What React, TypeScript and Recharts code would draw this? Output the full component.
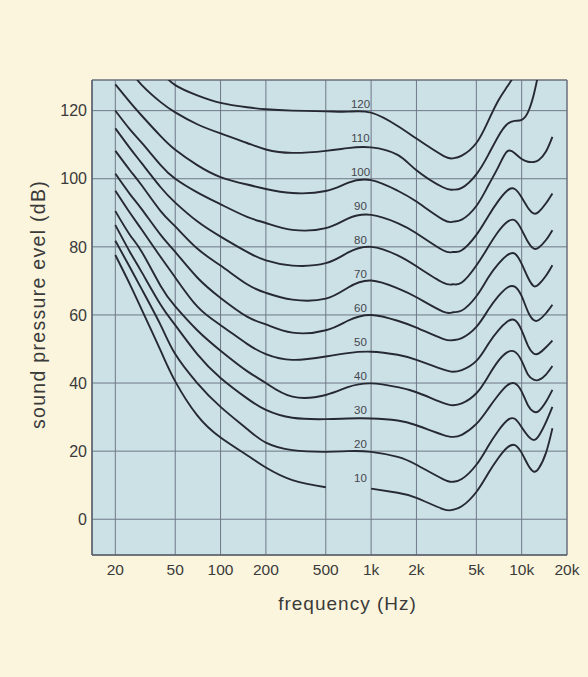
import {
  CartesianGrid,
  Line,
  LineChart,
  ReferenceArea,
  ReferenceDot,
  XAxis,
  YAxis
} from "recharts";

const FREQS = [20, 25, 30, 40, 50, 70, 100, 150, 200, 300, 500, 700, 1000, 1500, 2000, 3000, 3500, 4000, 5000, 6000, 7000, 8000, 9000, 10000, 11000, 12000, 13000, 14500, 16000];

// sound pressure level (dB) for each equal-loudness contour
const PHON_120 = [null, null, null, 131.5, 127.5, 124.5, 122.3, 121, 120.4, 120, 119.8, 119.7, 119.4, 115.5, 111.8, 106.8, 106, 106.8, 110.5, 117, 123, 127, 130.5, null, null, null, null, null, null];
const PHON_110 = [null, 132, 127.5, 122.5, 119.5, 116, 113.3, 110.5, 108.6, 107.6, 108.2, 109, 109.2, 107, 102.5, 97.5, 96.8, 97.3, 101.3, 107, 112.5, 116, 117, 117.3, 119.5, 124.5, 131.5, null, null];
const PHON_100 = [127.7, 122.5, 118.5, 112.5, 108.5, 104, 100.5, 98.3, 97, 95.8, 96.4, 98.8, 99.6, 96.5, 93.3, 88, 87.4, 88, 92, 98, 103.5, 108, 107.5, 105.8, 105, 104.9, 105.5, 108, 112.3];
const PHON_90 = [120, 114.5, 110.5, 104, 100, 96, 92.5, 88.8, 87, 85, 85.5, 88.3, 89.4, 87, 84, 79, 78.5, 79, 83.5, 89, 93.5, 96.5, 97, 94.5, 91.5, 89.8, 90.3, 92.8, 95.7];
const PHON_80 = [114.8, 109, 104.5, 97.5, 93, 87.5, 83, 78.5, 76, 74.5, 75.2, 78.3, 80, 77.5, 74.3, 69.5, 69, 69.5, 74.5, 80, 84.5, 87.3, 87.8, 85, 81.5, 79.5, 79.8, 82, 84.9];
const PHON_70 = [108.2, 102.5, 98, 90.5, 86, 79.5, 74.5, 69, 66.5, 64.5, 64.8, 68, 70.1, 67.8, 65.2, 61, 60.8, 61.3, 65.5, 71, 75, 77.5, 78, 75, 71, 68.5, 69, 71.5, 74.6];
const PHON_60 = [101.5, 95.5, 91, 83.5, 78.5, 71, 65, 59.5, 57.2, 54.8, 55.5, 58.3, 60, 58.3, 56.3, 53, 52.6, 53.2, 56.5, 61.5, 65.5, 68, 68.3, 65.5, 61, 58.5, 58.5, 60.5, 63];
const PHON_50 = [96.5, 90, 85, 77, 71, 62.5, 57, 51.5, 48.5, 46.8, 47.8, 48.8, 49.2, 48.3, 46.8, 44, 43.3, 43.8, 46.5, 51.5, 55.5, 58, 58.5, 55.5, 51, 48.7, 48.7, 50.5, 52.5];
const PHON_40 = [90.5, 83.5, 78.5, 68.5, 62.5, 55.5, 49.5, 43.5, 40, 36, 36.5, 38.8, 39.9, 38.8, 37.3, 34.2, 33.5, 34, 37, 42, 46.5, 49, 49.2, 46.5, 42.5, 41, 40.9, 42.5, 45];
const PHON_30 = [86.4, 78.5, 72.5, 63, 57, 48.5, 41.5, 35.5, 32.1, 29.8, 29.4, 29.6, 29.6, 29, 27.6, 24.8, 24.2, 24.8, 28, 32.5, 36.5, 39.3, 39.9, 37.5, 33.5, 31.6, 31.8, 34.5, 38];
const PHON_20 = [81.8, 74, 67.5, 57, 48.5, 40, 33, 26.5, 22.5, 20.3, 19.8, 20, 19.8, 18.3, 16, 11.8, 11, 11.8, 16, 21.5, 26, 29, 29.5, 27, 24.5, 23.3, 24.5, 28.5, 33];
const PHON_10 = [77.6, 69, 61.5, 49.5, 40.5, 30.5, 24, 18.8, 15.2, 11.5, 9.4, null, 9, 7.8, 6.3, 3, 2.8, 3.8, 8, 13.5, 18, 21, 21.8, 19.5, 16, 14, 15, 19.5, 26.7];

const CURVES = [
  { phon: 120, values: PHON_120 },
  { phon: 110, values: PHON_110 },
  { phon: 100, values: PHON_100 },
  { phon: 90, values: PHON_90 },
  { phon: 80, values: PHON_80 },
  { phon: 70, values: PHON_70 },
  { phon: 60, values: PHON_60 },
  { phon: 50, values: PHON_50 },
  { phon: 40, values: PHON_40 },
  { phon: 30, values: PHON_30 },
  { phon: 20, values: PHON_20 },
  { phon: 10, values: PHON_10 },
];

const X_TICKS = [20, 50, 100, 200, 500, 1000, 2000, 5000, 10000, 20000];
const Y_TICKS = [0, 20, 40, 60, 80, 100, 120];
const X_DOMAIN: [number, number] = [14, 20000];
const Y_DOMAIN: [number, number] = [-10.5, 129];
const LABEL_FREQ = 850;

const FONT = "'Liberation Sans', Arial, Helvetica, sans-serif";
const INK = "#262832";
const TEXT = "#3a3a3a";

const chartData = FREQS.map((f, i) => {
  const row: Record<string, number | null> = { f };
  CURVES.forEach((c) => {
    row[`p${c.phon}`] = c.values[i];
  });
  return row;
});

function formatFreq(value: number): string {
  return value >= 1000 ? `${value / 1000}k` : String(value);
}

function YTitle(props: any) {
  const { x, y, height } = props.viewBox;
  const cx = x + 6;
  const cy = y + height / 2 - 13;
  return (
    <text
      x={cx}
      y={cy}
      transform={`rotate(-90, ${cx}, ${cy})`}
      textAnchor="middle"
      dominantBaseline="central"
      fill={TEXT}
      fontSize={19.5}
      letterSpacing={1.3}
      fontFamily={FONT}
    >
      sound pressure evel (dB)
    </text>
  );
}

function XTitle(props: any) {
  const { x, y, width, height } = props.viewBox;
  return (
    <text
      x={x + width / 2 + 18}
      y={y + height + 8}
      textAnchor="middle"
      dominantBaseline="central"
      fill={TEXT}
      fontSize={19}
      letterSpacing={1}
      fontFamily={FONT}
    >
      frequency (Hz)
    </text>
  );
}

export default function App() {
  return (
    <div style={{ position: "absolute", left: 0, top: 0, width: 588, height: 677, background: "#fcf5dd", fontFamily: FONT }}>
      <LineChart
        width={588}
        height={677}
        data={chartData}
        margin={{ top: 80, right: 21, left: 32, bottom: 82 }}
      >
        <CartesianGrid fill="#cbe1e5" stroke="#6f7888" strokeWidth={1} />
        <XAxis
          dataKey="f"
          type="number"
          scale="log"
          domain={X_DOMAIN}
          ticks={X_TICKS}
          allowDataOverflow
          tickFormatter={formatFreq}
          height={40}
          tickLine={false}
          tickSize={6}
          tickMargin={3}
          axisLine={{ stroke: "#555a66" }}
          tick={{ fill: TEXT, fontSize: 15.5 }}
          label={<XTitle />}
        />
        <YAxis
          type="number"
          domain={Y_DOMAIN}
          ticks={Y_TICKS}
          allowDataOverflow
          width={60}
          tickLine={false}
          tickSize={3}
          tickMargin={2}
          axisLine={{ stroke: "#555a66" }}
          tick={{ fill: TEXT, fontSize: 16 }}
          label={<YTitle />}
        />
        <ReferenceArea
          x1={X_DOMAIN[0]}
          x2={X_DOMAIN[1]}
          y1={Y_DOMAIN[0]}
          y2={Y_DOMAIN[1]}
          fill="none"
          fillOpacity={0}
          stroke="#666b78"
          strokeWidth={1}
        />
        {CURVES.map((c) => (
          <Line
            key={c.phon}
            type="natural"
            dataKey={`p${c.phon}`}
            stroke={INK}
            strokeWidth={1.9}
            dot={false}
            activeDot={false}
            isAnimationActive={false}
          />
        ))}
        {CURVES.map((c) => (
          <ReferenceDot
            key={`lbl${c.phon}`}
            x={LABEL_FREQ}
            y={c.phon + 2}
            r={0}
            fill="none"
            stroke="none"
            label={{ value: String(c.phon), position: "center", fill: "#45464e", fontSize: 11.5 }}
          />
        ))}
      </LineChart>
    </div>
  );
}
